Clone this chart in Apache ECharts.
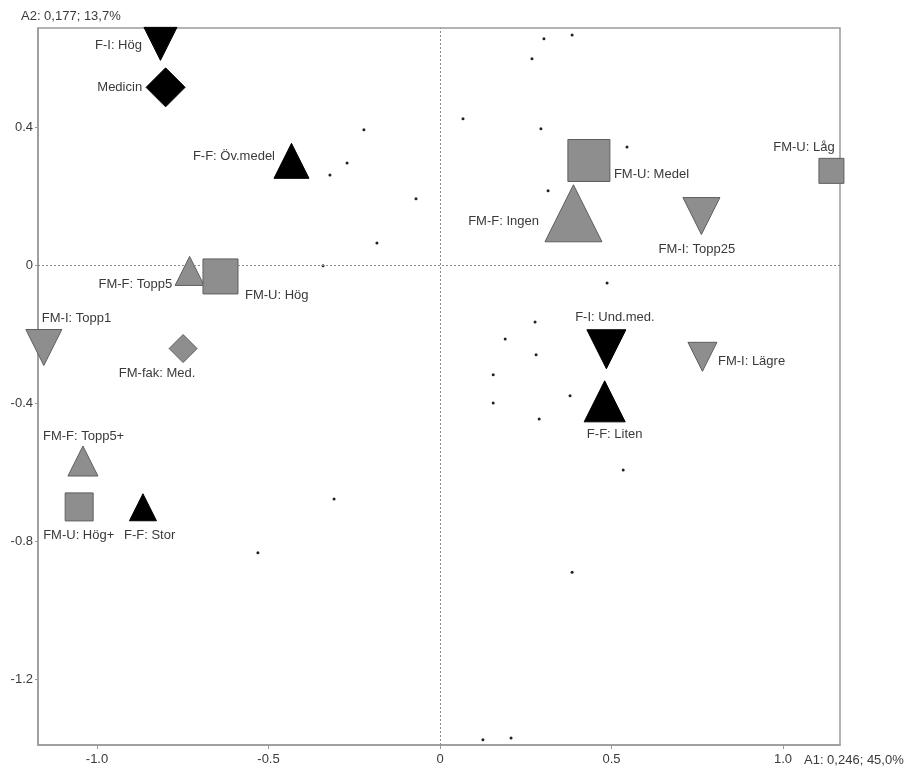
<!DOCTYPE html>
<html>
<head>
<meta charset="utf-8">
<script src="https://cdn.jsdelivr.net/npm/echarts@6/dist/echarts.min.js"></script>
<style>
html,body{margin:0;padding:0;background:#fff;}
#chart{width:909px;height:769px;}
</style>
</head>
<body>
<div id="chart"></div>
<script>
// ---- data ----
const catNames = ['F-I: Hög','Medicin','F-F: Öv.medel','FM-F: Topp5','FM-U: Hög','FM-U: Medel','FM-F: Ingen','FM-U: Låg','FM-I: Topp25','F-I: Und.med.','F-F: Liten','FM-I: Lägre','FM-I: Topp1','FM-fak: Med.','FM-F: Topp5+','FM-U: Hög+','F-F: Stor'];
const catX = [-0.815,-0.800,-0.433,-0.730,-0.640,0.434,0.389,1.141,0.762,0.485,0.480,0.765,-1.155,-0.749,-1.041,-1.052,-0.866];
const catY = [0.642,0.516,0.303,-0.016,-0.032,0.304,0.151,0.274,0.143,-0.243,-0.394,-0.265,-0.238,-0.241,-0.567,-0.700,-0.701];

const dotX = [0.303,0.385,0.268,0.067,0.294,0.545,0.315,-0.070,-0.222,-0.271,-0.321,-0.184,-0.341,0.487,0.277,0.190,0.280,0.155,0.379,0.155,0.289,0.534,0.385,-0.309,-0.531,0.125,0.207];
const dotY = [0.657,0.668,0.599,0.425,0.396,0.343,0.216,0.193,0.393,0.297,0.262,0.065,-0.001,-0.051,-0.164,-0.213,-0.259,-0.317,-0.378,-0.399,-0.445,-0.593,-0.889,-0.677,-0.833,-1.375,-1.370];

const xTicks = [-1.0,-0.5,0,0.5,1.0];
const yTicks = [0.4,0,-0.4,-0.8,-1.2];
const xAxisTitle = 'A1: 0,246; 45,0%';
const yAxisTitle = 'A2: 0,177; 13,7%';

// ---- styles (not data) ----
const symbolSizes = [33,39,35,29,35,42,57,25,37,39,41,29,36,28,30,28,27];
const labelPlace = [
  ['right',-18.5,2],['right',-23.5,0.5],['right',-16.5,-4],['right',-17.5,14],
  ['left',24.5,18.5],['left',25,13.5],['right',-34.5,8.5],['center',-27.5,-23],
  ['center',-4.5,33],['center',8.5,-31.5],['center',10,33.5],['left',15.5,5],
  ['left',-2,-29.5],['center',-26,24.5],['left',-40,-25],['left',-36,29],['left',-19,28.5]
];
const DOWN = 'path://M0,0L2,0L1,2Z';
const BLACK = {color:'#000', borderColor:'#000', borderWidth:1, opacity:1};
const GREY = {color:'#8e8e8e', borderColor:'#5e5e5e', borderWidth:1, opacity:1};
const prefixStyle = {
  'F-I': {symbol: DOWN, item: BLACK},
  'F-F': {symbol: 'triangle', item: BLACK},
  'FM-U': {symbol: 'rect', item: GREY},
  'FM-F': {symbol: 'triangle', item: GREY},
  'FM-I': {symbol: DOWN, item: GREY},
  'FM-fak': {symbol: 'diamond', item: GREY}
};
const defaultStyle = {symbol:'diamond', item: BLACK};
const FONT = 'Liberation Sans, Arial, sans-serif';
const TEXT = '#3a3a3a';
const FRAME = '#9a9a9a';

const catData = catNames.map((n,i) => {
  const pre = n.split(':')[0];
  const st = prefixStyle[pre] || defaultStyle;
  const lp = labelPlace[i];
  return {
    name: n,
    value: [catX[i], catY[i]],
    symbol: st.symbol,
    symbolSize: symbolSizes[i],
    itemStyle: st.item,
    label: {
      show: true, formatter: n, position: 'inside',
      align: lp[0], verticalAlign: 'middle', offset: [lp[1], lp[2]],
      color: TEXT, fontSize: 13, fontFamily: FONT
    }
  };
});
const dotData = dotX.map((x,i) => [x, dotY[i]]);

const fmt = v => (Math.abs(v) < 1e-9 ? '0' : v.toFixed(1));

const chart = echarts.init(document.getElementById('chart'), null, {renderer:'canvas'});
chart.setOption({
  animation: false,
  backgroundColor: '#fff',
  grid: {left: 38, right: 69, top: 28, bottom: 24, show: true, borderColor: FRAME, borderWidth: 1.5, backgroundColor: 'transparent'},
  xAxis: {
    type: 'value', min: -1.172, max: 1.166,
    axisLine: {show: true, onZero: false, lineStyle: {color: FRAME, width: 1.5}},
    axisTick: {show: true, customValues: xTicks, length: 4, lineStyle: {color: FRAME}},
    axisLabel: {customValues: xTicks, formatter: fmt, color: TEXT, fontSize: 13, fontFamily: FONT, margin: 8},
    splitLine: {show: false}
  },
  yAxis: {
    type: 'value', min: -1.39, max: 0.688,
    axisLine: {show: true, onZero: false, lineStyle: {color: FRAME, width: 1.5}},
    axisTick: {show: true, customValues: yTicks, length: 3, lineStyle: {color: FRAME}},
    axisLabel: {customValues: yTicks, formatter: fmt, color: TEXT, fontSize: 13, fontFamily: FONT, margin: 5},
    splitLine: {show: false}
  },
  graphic: [
    {type: 'text', left: 21, top: 10, style: {text: yAxisTitle, font: '13px ' + FONT, fill: TEXT}},
    {type: 'text', left: 804, top: 754, style: {text: xAxisTitle, font: '13px ' + FONT, fill: TEXT}}
  ],
  series: [
    {
      type: 'scatter', data: dotData, symbol: 'circle', symbolSize: 3,
      itemStyle: {color: '#222', opacity: 1}, silent: true, z: 2,
      markLine: {
        silent: true, symbol: ['none','none'], label: {show: false},
        lineStyle: {type: [2,2], color: '#8a8a8a', width: 1},
        data: [{xAxis: 0}, {yAxis: 0}]
      }
    },
    {
      type: 'scatter', data: catData, clip: false, z: 3,
      emphasis: {disabled: true}
    }
  ]
});
</script>
</body>
</html>
